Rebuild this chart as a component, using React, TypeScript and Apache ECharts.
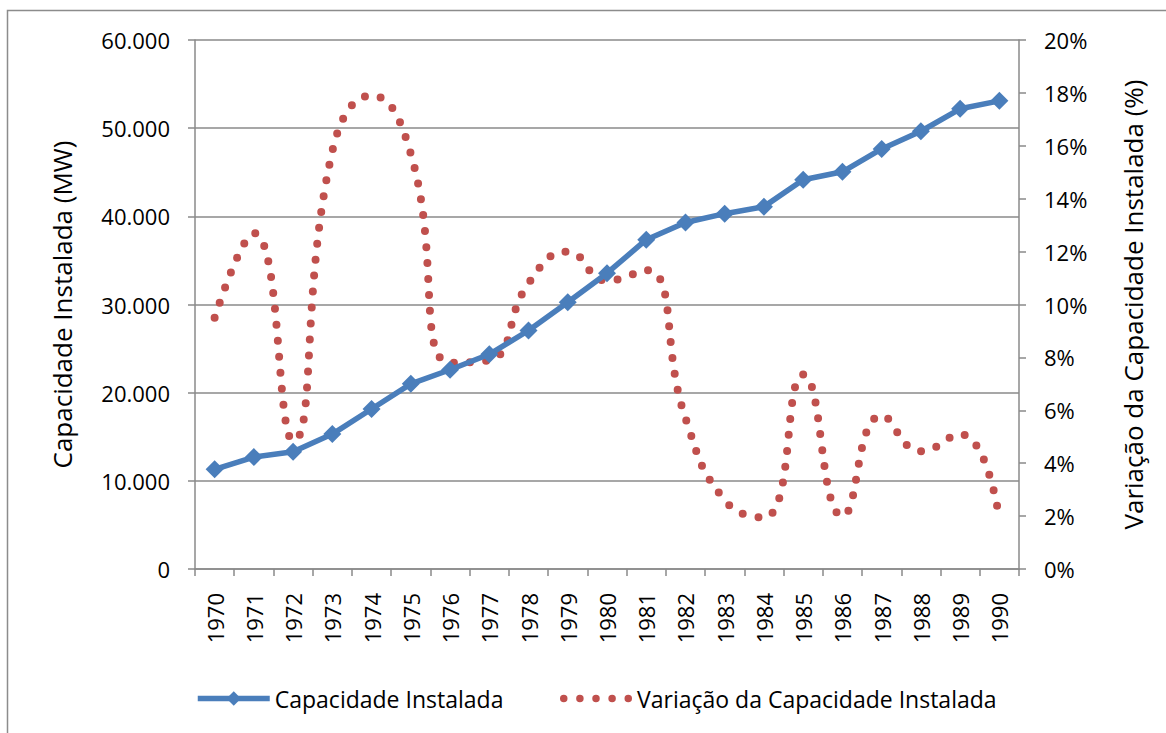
import React, { useEffect, useRef } from "react";
import * as echarts from "echarts";

const years = ["1970","1971","1972","1973","1974","1975","1976","1977","1978","1979","1980","1981","1982","1983","1984","1985","1986","1987","1988","1989","1990"];
const capacidade = [11300, 12700, 13300, 15300, 18150, 21000, 22600, 24350, 27050, 30250, 33550, 37350, 39300, 40300, 41100, 44150, 45050, 47650, 49650, 52200, 53100];
const variacao = [9.5, 12.7, 4.85, 15.8, 17.9, 15.7, 7.8, 7.9, 10.8, 12.0, 10.9, 11.3, 5.7, 2.6, 1.95, 7.35, 2.0, 5.8, 4.45, 5.1, 1.9];

const leftTicks = { min: 0, max: 60000, interval: 10000 };
const rightTicks = { min: 0, max: 20, interval: 2 };

const FONT = "Open Sans";
const GRID_COLOR = "#8a8a8a";
const BLUE = "#4A7EBB";
const RED = "#C0504D";

function dotsIcon(): string {
  const r = 3.75;
  const centers = [3.75, 19.9, 36, 52.1, 68.25];
  const parts = centers.map(
    (c) => `M${c - r} ${r}A${r} ${r} 0 1 0 ${c + r} ${r}A${r} ${r} 0 1 0 ${c - r} ${r}Z`
  );
  return "path://" + parts.join("");
}

export default function App() {
  const ref = useRef<HTMLDivElement>(null);
  useEffect(() => {
    document.body.style.margin = "0";
    if (!ref.current) return;
    const chart = echarts.init(ref.current, null, { renderer: "svg" });
    const legendText = { fontFamily: FONT, fontSize: 23, color: "#000" };
    chart.setOption({
      animation: false,
      backgroundColor: "#ffffff",
      textStyle: { fontFamily: FONT, color: "#000" },
      graphic: [
        {
          type: "rect",
          shape: { x: 7.5, y: 10.5, width: 1300, height: 900 },
          style: { fill: "none", stroke: "#8c8c8c", lineWidth: 1.5 },
          silent: true,
        },
      ],
      grid: { left: 195, right: 147, top: 40, bottom: 164, containLabel: false },
      legend: [
        {
          left: 190,
          top: 682,
          itemWidth: 72,
          itemHeight: 18,
          textStyle: legendText,
          data: [
            {
              name: "Capacidade Instalada",
              lineStyle: { width: 5.5, color: BLUE },
            },
          ],
        },
        {
          left: 555,
          top: 682,
          itemWidth: 72,
          itemHeight: 18,
          symbolKeepAspect: true,
          textStyle: legendText,
          data: [
            {
              name: "Variação da Capacidade Instalada",
              icon: dotsIcon(),
              itemStyle: { color: RED },
            },
          ],
        },
      ],
      xAxis: {
        type: "category",
        data: years,
        boundaryGap: true,
        axisLine: { lineStyle: { color: GRID_COLOR, width: 1.5 } },
        axisTick: { show: true, length: 7, lineStyle: { color: GRID_COLOR, width: 1.5 } },
        axisLabel: { rotate: 90, margin: 24, fontSize: 22, fontFamily: FONT, color: "#000" },
        splitLine: { show: false },
      },
      yAxis: [
        {
          type: "value",
          position: "left",
          min: leftTicks.min,
          max: leftTicks.max,
          interval: leftTicks.interval,
          name: "Capacidade Instalada (MW)",
          nameLocation: "middle",
          nameRotate: 90,
          nameGap: 120,
          nameTextStyle: { fontSize: 26, fontFamily: FONT, color: "#000" },
          axisLine: { show: true, lineStyle: { color: GRID_COLOR, width: 1.5 } },
          axisTick: { show: true, length: 7, lineStyle: { color: GRID_COLOR, width: 1.5 } },
          axisLabel: {
            margin: 25,
            fontSize: 22,
            fontFamily: FONT,
            color: "#000",
            formatter: (v: number) => (v === 0 ? "0" : `${v / 1000}.000`),
          },
          splitLine: { show: true, lineStyle: { color: GRID_COLOR, width: 1.5 } },
        },
        {
          type: "value",
          position: "right",
          min: rightTicks.min,
          max: rightTicks.max,
          interval: rightTicks.interval,
          name: "Variação da Capacidade Instalada (%)",
          nameLocation: "middle",
          nameRotate: 90,
          nameGap: 101,
          nameTextStyle: { fontSize: 26, fontFamily: FONT, color: "#000" },
          axisLine: { show: true, lineStyle: { color: GRID_COLOR, width: 1.5 } },
          axisTick: { show: true, length: 7, lineStyle: { color: GRID_COLOR, width: 1.5 } },
          axisLabel: {
            margin: 25,
            fontSize: 22,
            fontFamily: FONT,
            color: "#000",
            formatter: (v: number) => `${v}%`,
          },
          splitLine: { show: false },
        },
      ],
      series: [
        {
          name: "Capacidade Instalada",
          type: "line",
          yAxisIndex: 0,
          data: capacidade,
          symbol: "diamond",
          symbolSize: 18,
          itemStyle: { color: BLUE },
          lineStyle: { color: BLUE, width: 5.5 },
          z: 3,
        },
        {
          name: "Variação da Capacidade Instalada",
          type: "line",
          yAxisIndex: 1,
          data: variacao,
          smooth: 0.5,
          showSymbol: false,
          symbol: "none",
          itemStyle: { color: RED },
          lineStyle: { color: RED, width: 8, type: [0, 16], cap: "round" },
          z: 2,
        },
      ],
    });
    return () => chart.dispose();
  }, []);
  return <div ref={ref} style={{ width: 1166, height: 733 }} />;
}
